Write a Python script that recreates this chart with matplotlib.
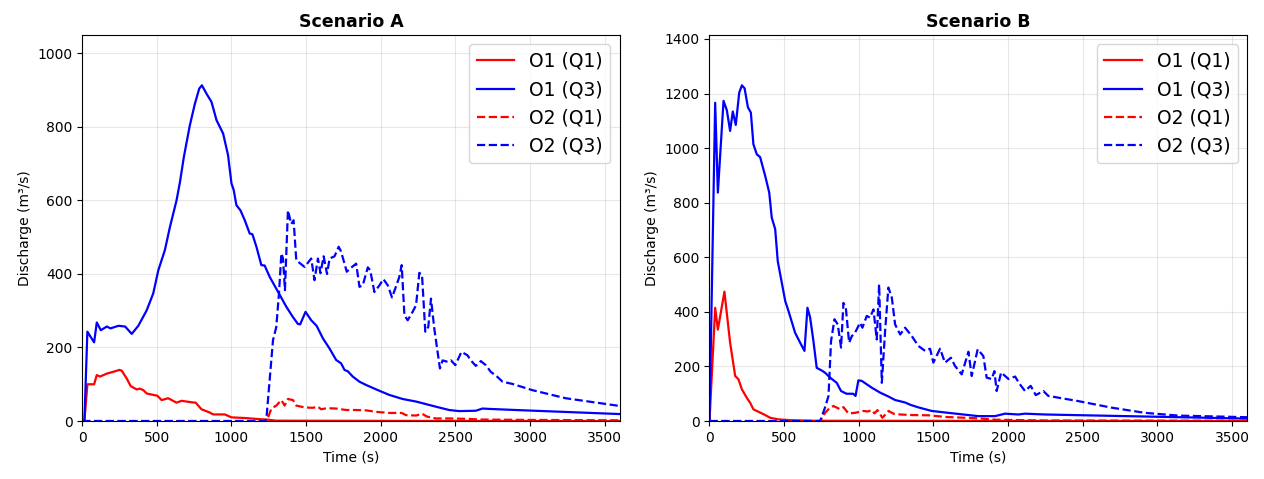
import numpy as np
import matplotlib
matplotlib.use("Agg")
import matplotlib.pyplot as plt

# (time s, discharge m3/s)
A_O1_Q1 = [(0, 0), (15, 0), (35, 100), (80, 100), (98, 125), (120, 121), (165, 129),
           (209, 134), (249, 139), (265, 137), (298, 116), (325, 95), (365, 86),
           (387, 88), (410, 84), (432, 75), (476, 71), (503, 69), (532, 57), (576, 62),
           (632, 50), (666, 55), (733, 51), (760, 50), (799, 32), (855, 23), (877, 18),
           (955, 18), (1000, 10), (1100, 8), (1190, 5), (1234, 4), (1300, 1),
           (2000, 0.5), (3600, 0)]
A_O1_Q3 = [(0, 0), (15, 0), (35, 243), (80, 214), (98, 268), (125, 247), (165, 257),
           (190, 252), (243, 259), (288, 257), (332, 237), (376, 259), (432, 301),
           (476, 347), (510, 410), (554, 465), (588, 528), (632, 600), (655, 650),
           (681, 718), (721, 804), (755, 863), (784, 904), (802, 913), (833, 890),
           (866, 868), (900, 818), (944, 782), (977, 723), (1000, 646), (1015, 628),
           (1033, 587), (1060, 573), (1089, 546), (1122, 510), (1140, 508), (1167, 474),
           (1200, 424), (1222, 423), (1256, 392), (1300, 360), (1367, 311), (1411, 283),
           (1445, 264), (1460, 263), (1496, 297), (1534, 274), (1570, 259), (1612, 225),
           (1657, 197), (1701, 166), (1734, 157), (1757, 139), (1780, 135), (1812, 121),
           (1857, 107), (1902, 98), (1969, 86), (2057, 71), (2146, 60), (2236, 53),
           (2369, 39), (2458, 30), (2525, 27), (2636, 28), (2681, 34), (2725, 33),
           (2903, 30), (3600, 19)]
A_O2_Q1 = [(0, 0), (1234, 0), (1250, 15), (1267, 34), (1300, 42), (1334, 57), (1356, 42),
           (1378, 60), (1412, 57), (1434, 42), (1490, 37), (1545, 36), (1579, 39),
           (1600, 32), (1640, 35), (1700, 34), (1768, 30), (1835, 30), (1902, 29),
           (1969, 25), (2057, 22), (2140, 22), (2169, 16), (2236, 15), (2276, 20),
           (2310, 12), (2369, 7), (2458, 7), (2570, 6), (2680, 4), (3000, 3), (3600, 2)]
A_O2_Q3 = [(0, 0), (1225, 0), (1234, 7), (1278, 220), (1300, 256), (1318, 347),
           (1334, 456), (1345, 442), (1358, 356), (1378, 573), (1400, 536), (1416, 546),
           (1434, 437), (1490, 419), (1534, 442), (1556, 383), (1579, 442), (1596, 402),
           (1617, 448), (1640, 400), (1657, 442), (1690, 448), (1718, 474), (1734, 461),
           (1772, 406), (1801, 417), (1835, 428), (1857, 365), (1879, 369), (1913, 418),
           (1929, 410), (1957, 351), (1991, 369), (2017, 386), (2047, 369), (2075, 336),
           (2101, 365), (2124, 392), (2140, 424), (2158, 288), (2180, 274), (2213, 297),
           (2236, 315), (2258, 403), (2276, 397), (2298, 243), (2318, 256), (2336, 333),
           (2358, 252), (2396, 143), (2414, 165), (2447, 161), (2470, 165), (2499, 152),
           (2540, 188), (2580, 179), (2603, 165), (2636, 150), (2670, 163), (2703, 152),
           (2736, 134), (2781, 120), (2815, 107), (2881, 101), (3015, 84), (3238, 62),
           (3600, 41)]

B_O1_Q1 = [(0, 0), (38, 415), (56, 335), (100, 474), (138, 287), (172, 165), (194, 153),
           (217, 116), (250, 85), (272, 67), (294, 43), (339, 31), (373, 22), (406, 12),
           (462, 6), (550, 3), (700, 1), (3600, 0)]
B_O1_Q3 = [(0, 0), (38, 1166), (56, 837), (94, 1173), (116, 1139), (138, 1063),
           (156, 1134), (176, 1085), (199, 1203), (217, 1230), (235, 1219), (257, 1150),
           (277, 1130), (294, 1014), (317, 977), (339, 967), (373, 898), (400, 837),
           (417, 745), (440, 703), (457, 586), (484, 507), (507, 440), (529, 403),
           (573, 324), (607, 287), (636, 257), (656, 415), (674, 379), (696, 293),
           (718, 195), (752, 185), (774, 177), (808, 159), (852, 140), (881, 110),
           (918, 100), (962, 100), (978, 92), (997, 149), (1020, 147), (1087, 122),
           (1143, 104), (1198, 90), (1243, 77), (1310, 68), (1343, 60), (1399, 50),
           (1488, 37), (1600, 30), (1800, 18), (1912, 18), (1979, 27), (2068, 24),
           (2113, 27), (2247, 24), (3600, 9)]
B_O2_Q1 = [(0, 0), (741, 0), (774, 30), (805, 48), (830, 55), (875, 43), (897, 51),
           (930, 28), (975, 30), (1031, 37), (1060, 35), (1087, 40), (1105, 28),
           (1125, 40), (1158, 12), (1199, 37), (1232, 27), (1277, 24), (1355, 22),
           (1466, 21), (1580, 15), (1711, 12), (1800, 10), (1912, 5), (2000, 4),
           (2247, 2), (3600, 1)]
B_O2_Q3 = [(0, 0), (741, 0), (774, 50), (797, 92), (814, 293), (837, 373), (859, 354),
           (881, 269), (897, 433), (913, 415), (935, 287), (953, 311), (975, 324),
           (1008, 360), (1024, 342), (1053, 385), (1075, 379), (1098, 409), (1120, 299),
           (1136, 501), (1154, 140), (1176, 330), (1198, 489), (1221, 452), (1243, 354),
           (1277, 317), (1310, 342), (1355, 311), (1399, 275), (1444, 257), (1477, 265),
           (1499, 214), (1544, 265), (1577, 214), (1617, 232), (1644, 202), (1689, 171),
           (1734, 254), (1756, 165), (1796, 263), (1834, 238), (1856, 159), (1890, 154),
           (1908, 183), (1923, 110), (1953, 178), (2002, 154), (2047, 163), (2074, 138),
           (2113, 110), (2151, 129), (2185, 95), (2236, 110), (2269, 92), (2470, 73),
           (2693, 49), (2916, 30), (3140, 20), (3600, 14)]

scenarios = {
    "Scenario A": [A_O1_Q1, A_O1_Q3, A_O2_Q1, A_O2_Q3],
    "Scenario B": [B_O1_Q1, B_O1_Q3, B_O2_Q1, B_O2_Q3],
}
labels = ["O1 (Q1)", "O1 (Q3)", "O2 (Q1)", "O2 (Q3)"]
colors = ["red", "blue", "red", "blue"]
styles = ["-", "-", "--", "--"]

fig, axes = plt.subplots(1, 2, figsize=(12.64, 4.79), dpi=100)
fig.subplots_adjust(left=0.065, right=0.9866, bottom=0.121, top=0.927, wspace=0.167)

for ax, (title, series) in zip(axes, scenarios.items()):
    ymax = 0
    for data, label, c, ls in zip(series, labels, colors, styles):
        arr = np.array(data, dtype=float)
        ax.plot(arr[:, 0], arr[:, 1], color=c, linestyle=ls, linewidth=1.6, label=label)
        ymax = max(ymax, arr[:, 1].max())
    ax.set_xlim(0, 3600)
    ax.set_ylim(0, ymax * 1.15)
    ax.set_title(title, fontsize=12.5, fontweight="bold")
    ax.set_xlabel("Time (s)", fontsize=10)
    ax.set_ylabel("Discharge (m³/s)", fontsize=10)
    ax.tick_params(labelsize=10)
    ax.grid(True, alpha=0.3)
    ax.legend(loc="upper right", fontsize=13.5)

fig.savefig("out.png", dpi=100)
